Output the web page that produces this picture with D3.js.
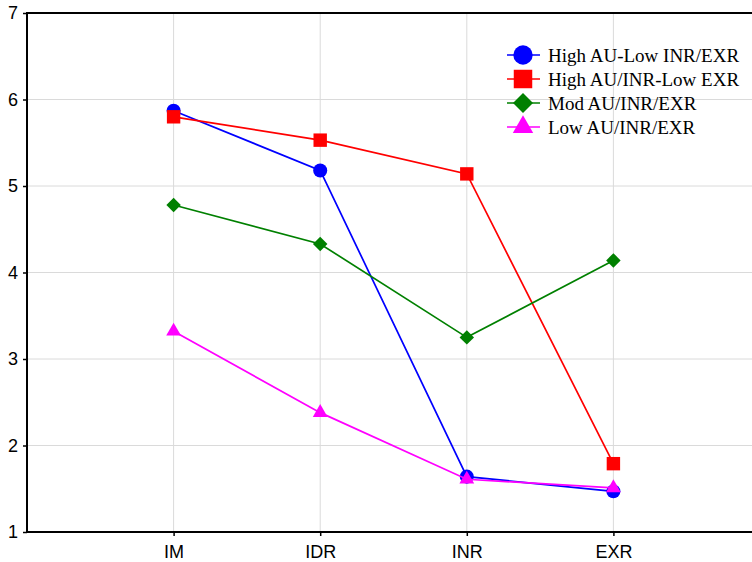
<!DOCTYPE html>
<html>
<head>
<meta charset="utf-8">
<script src="https://cdn.jsdelivr.net/npm/d3@7"></script>
<style>
	body { margin: 0; background: #fff; }
	svg { display: block; }
</style>
</head>
<body>
<svg id="chart"></svg>
<script>
// Data
var categories = ["IM", "IDR", "INR", "EXR"];
var yTicks = [1, 2, 3, 4, 5, 6, 7];
var seriesNames = ["High AU-Low INR/EXR", "High AU/INR-Low EXR", "Mod AU/INR/EXR", "Low AU/INR/EXR"];
var highAuLowInrExr = [5.87, 5.18, 1.64, 1.47];
var highAuInrLowExr = [5.80, 5.53, 5.14, 1.79];
var modAuInrExr = [4.78, 4.33, 3.25, 4.14];
var lowAuInrExr = [3.32, 2.38, 1.61, 1.51];

var seriesColors = ["#0000ff", "#ff0000", "#008000", "#ff00ff"];
var seriesSymbols = [d3.symbolCircle, d3.symbolSquare, d3.symbolSquare, d3.symbolTriangle];
var symbolSizes = [155, 180, 105, 95];
var symbolRotations = [0, 0, 45, 0];

(function () {
	var series = [highAuLowInrExr, highAuInrLowExr, modAuInrExr, lowAuInrExr].map(function (v, i) {
		return { name: seriesNames[i], values: v, color: seriesColors[i],
			symbol: seriesSymbols[i], size: symbolSizes[i], rot: symbolRotations[i] };
	});

	var W = 752, H = 562,
		mLeft = 27, mTop = 13, mRight = 760, mBottom = 532;

	var svg = d3.select("#chart").attr("width", W).attr("height", H);

	var x = d3.scalePoint().domain(categories).range([mLeft, mRight]).padding(1);
	var y = d3.scaleLinear().domain([1, 7]).range([mBottom, mTop]);

	// Grid
	var grid = svg.append("g").attr("stroke", "#dadada").attr("stroke-width", 1);
	yTicks.slice(1, -1).forEach(function (t) {
		grid.append("line").attr("x1", mLeft).attr("x2", W).attr("y1", y(t)).attr("y2", y(t));
	});
	categories.forEach(function (c) {
		grid.append("line").attr("x1", x(c)).attr("x2", x(c)).attr("y1", mTop).attr("y2", mBottom);
	});

	// Axes
	var yAxis = svg.append("g")
		.attr("transform", "translate(" + mLeft + ",0)")
		.call(d3.axisLeft(y).tickValues(yTicks).tickFormat(d3.format("d")).tickSize(4).tickPadding(5));
	var xAxis = svg.append("g")
		.attr("transform", "translate(0," + mBottom + ")")
		.call(d3.axisBottom(x).tickSize(4).tickPadding(9));

	[yAxis, xAxis].forEach(function (a) {
		a.select(".domain").attr("stroke", "#000").attr("stroke-width", 2);
		a.selectAll(".tick line").attr("stroke", "#000").attr("stroke-width", 1.5);
		a.selectAll(".tick text")
			.attr("fill", "#000")
			.style("font-family", "'Liberation Sans', Arial, sans-serif")
			.style("font-size", "18px");
	});
	xAxis.select(".domain").attr("d", "M" + mLeft + ",0H" + W);
	yAxis.select(".domain").attr("d", "M0," + mBottom + "V" + mTop);

	// Top border
	svg.append("line")
		.attr("x1", mLeft - 1).attr("x2", W)
		.attr("y1", mTop).attr("y2", mTop)
		.attr("stroke", "#000").attr("stroke-width", 2);

	// Lines and markers
	var line = d3.line()
		.x(function (d, i) { return x(categories[i]); })
		.y(function (d) { return y(d); });

	series.forEach(function (s) {
		var g = svg.append("g");
		g.append("path")
			.attr("d", line(s.values))
			.attr("fill", "none")
			.attr("stroke", s.color)
			.attr("stroke-width", 1.7);
		g.selectAll("path.pt")
			.data(s.values)
			.enter().append("path")
			.attr("class", "pt")
			.attr("d", d3.symbol().type(s.symbol).size(s.size))
			.attr("transform", function (d, i) {
				return "translate(" + x(categories[i]) + "," + y(d) + ") rotate(" + s.rot + ")";
			})
			.attr("fill", s.color);
	});

	// Legend
	var legend = svg.append("g").attr("transform", "translate(507,55)");
	series.forEach(function (s, i) {
		var row = legend.append("g").attr("transform", "translate(0," + (i * 24) + ")");
		row.append("line")
			.attr("x1", 0).attr("x2", 33)
			.attr("stroke", s.color).attr("stroke-width", 1.7);
		row.append("path")
			.attr("d", d3.symbol().type(s.symbol).size(s.size * 1.9))
			.attr("transform", "translate(16,0) rotate(" + s.rot + ")")
			.attr("fill", s.color);
		row.append("text")
			.attr("x", 41)
			.attr("dy", "0.35em")
			.style("font-family", "'Liberation Serif', 'Times New Roman', serif")
			.style("font-size", "19px")
			.text(s.name);
	});
})();
</script>
</body>
</html>
